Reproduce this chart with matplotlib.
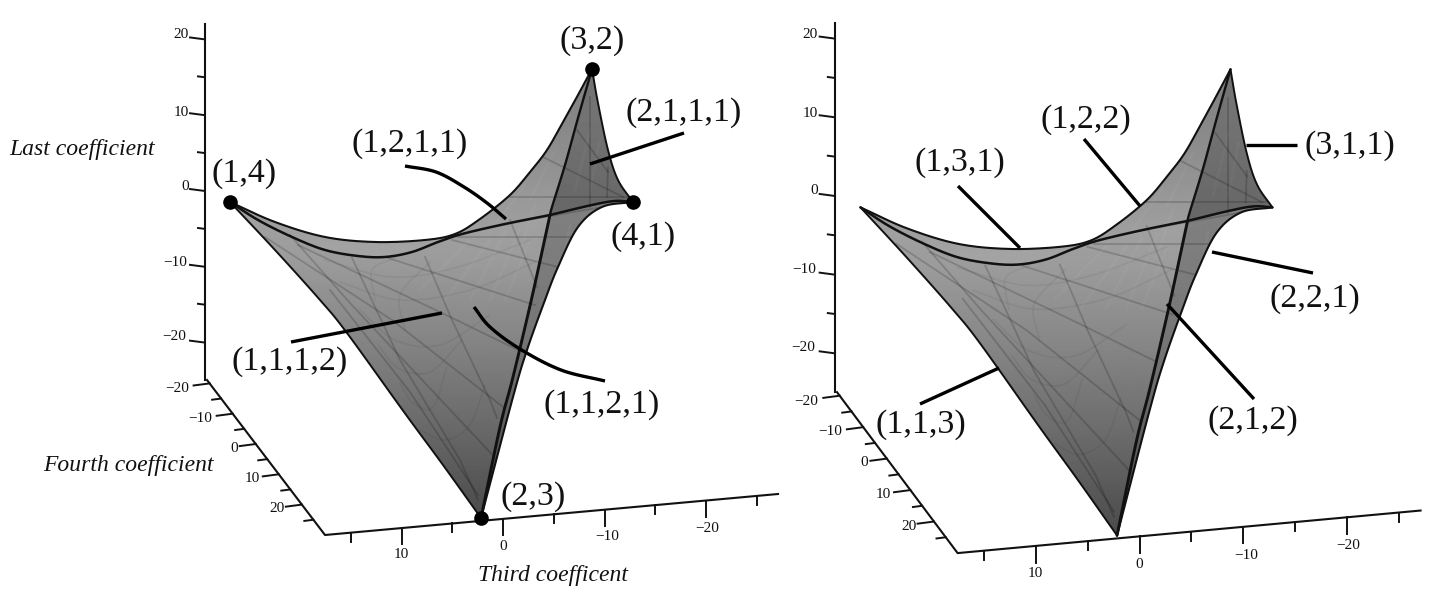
import numpy as np
import matplotlib
matplotlib.use("Agg")
import matplotlib.pyplot as plt
from matplotlib.patches import Polygon

plt.rcParams['font.family'] = ['Liberation Serif', 'DejaVu Serif']

# outline of the surface
top_curve = [(230,202),(275,222),(325,237),(375,242),(425,240),(455,234),(480,219),(510,195),(530,172),(547,150),(563,122),(578,95),(592,69)]
front_curve = [(230,202),(258,220),(292,237),(325,250),(358,256),(385,257),(412,252),(438,242),(462,234),(505,224),(550,215)]
front_curve2 = [(550,215),(592,205),(615,201),(633,202)]
ridge_upper = [(592,69),(578,118),(565,165),(552,207),(550,215)]
ridge_lower = [(550,215),(532,297),(513,377),(500,427),(481,518)]
back_edge = [(592,69),(598,103),(608,150),(618,180),(633,202)]
right_edge = [(633,202),(602,207),(578,227),(558,267),(545,300),(527,350),(513,397),(481,518)]
left_edge = [(230,202),(275,250),(320,300),(347,333),(404,412),(443,465),(481,518)]

# grey level against height for each face
shade_y = [60, 120, 200, 260, 340, 430, 520]
back_shade = [0.50, 0.53, 0.60, 0.65, 0.65, 0.65, 0.65]
main_shade = [0.64, 0.64, 0.64, 0.61, 0.52, 0.41, 0.29]
dark_shade = [0.45, 0.45, 0.41, 0.40, 0.40, 0.40, 0.40]
sliver_shade = [0.50, 0.50, 0.50, 0.49, 0.46, 0.37, 0.28]

# darker lines crossing the surface
web_lines = [
    [(510,220),(537,287)],
    [(425,257),(452,320),(490,400),(497,418)],
    [(352,258),(400,360),(460,460),(478,500)],
    [(388,258),(535,305)],
    [(298,245),(442,313),(518,350)],
    [(265,237),(392,320),(503,407)],
    [(290,235),(350,303),(500,463)],
    [(452,240),(558,267)],
    [(458,237),(578,237)],
    [(510,197),(627,197)],
    [(543,157),(623,197)],
    [(577,130),(608,172)],
    [(590,97),(590,207)],
    [(608,167),(607,197)],
    [(505,224),(602,207)],
    [(330,290),(410,392),(478,495)],
]
# faint arcs on the big face
arcs = [
    [(325,260),(392,277),(458,267),(530,240)],
    [(340,282),(400,300),(470,290),(535,262)],
    [(400,383),(413,403),(433,407),(447,367)],
    [(378,345),(398,368),(430,372),(462,340)],
    [(360,310),(395,340),(440,345),(490,315)],
    [(420,430),(445,440),(470,425),(485,385)],
    [(375,300),(372,270),(395,258)],
    [(405,330),(400,295),(430,262)],
]
# light streaks on the upper part
streaks = [
    [(420,290),(470,240)],[(445,300),(490,240)],[(470,300),(505,232)],[(490,300),(520,228)],
    [(505,300),(530,240)],[(520,250),(535,205)],[(495,225),(525,185)],[(530,200),(555,150)],
    [(575,190),(590,130)],[(590,190),(600,140)],[(560,280),(570,225)],
]

third_ticks = [15, 10, 5, 0, -5, -10, -15, -20, -25]
fourth_ticks = [-20, -15, -10, -5, 0, 5, 10, 15, 20, 25]
last_ticks = [20, 15, 10, 5, 0, -5, -10, -15, -20]

last_labels = [(20,181,35),(10,181,112),(0,185,186),(-10,175,262),(-20,174,337)]
fourth_labels = [(-20,177,389),(-10,200,418),(0,234,448),(10,252,479),(20,277,509)]
third_labels = [(10,401,555),(0,503,546),(-10,607,537),(-20,707,528)]

left_names = [("(3,2)",592,41),("(2,1,1,1)",684,113),("(1,2,1,1)",410,144),("(1,4)",244,174),
              ("(4,1)",643,237),("(1,1,1,2)",290,362),("(1,1,2,1)",602,405),("(2,3)",533,497)]
right_names = [("(1,2,2)",1086,120),("(3,1,1)",1350,146),("(1,3,1)",960,163),("(2,2,1)",1315,299),
               ("(2,1,2)",1253,421),("(1,1,3)",921,425)]
axis_names = [("Last coefficient",82,150),("Fourth coefficient",128,466),("Third coefficent",553,576)]

left_leaders = [
    [(405,166),(436,172),(464,187),(487,203),(506,219)],
    [(684,133),(590,164)],
    [(291,342),(442,313)],
    [(474,307),(490,327),(520,349),(561,370),(605,381)],
]
right_leaders = [
    [(958,186),(1020,248)],
    [(1084,139),(1140,206)],
    [(1246,145),(1297,145)],
    [(1212,252),(1313,273)],
    [(1167,304),(1254,399)],
    [(920,404),(999,368)],
]
corner_dots = [(230,202),(592,69),(633,202),(481,518)]


def smooth(pts, n=14):
    # catmull-rom through the points, just so the curves do not look jagged
    p = np.array(pts, dtype=float)
    if len(p) < 3:
        return p
    p = np.vstack([2*p[0]-p[1], p, 2*p[-1]-p[-2]])
    out = []
    for i in range(1, len(p)-2):
        t = np.linspace(0, 1, n, endpoint=False)[:, None]
        a, b, c, d = p[i-1], p[i], p[i+1], p[i+2]
        out.append(0.5*(2*b + (c-a)*t + (2*a-5*b+4*c-d)*t**2 + (3*b-a-3*c+d)*t**3))
    out.append(p[-2:-1])
    return np.vstack(out)


def draw_face(ax, outline, shade):
    ys = np.arange(40, 541)
    grad = np.interp(ys, shade_y, shade)[:, None]
    im = ax.imshow(grad, extent=(200, 660, 540, 40), aspect='auto', cmap='gray', vmin=0, vmax=1, zorder=1)
    im.set_clip_path(Polygon(outline, closed=True, transform=ax.transData))


def draw_panel(ax):
    top = smooth(top_curve)
    front = smooth(front_curve)
    front2 = smooth(front_curve2)
    up = smooth(ridge_upper)
    low = smooth(ridge_lower)
    back = smooth(back_edge)
    right = smooth(right_edge)
    left = smooth(left_edge)

    draw_face(ax, np.vstack([top, up, front[::-1]]), back_shade)
    draw_face(ax, np.vstack([front, low, left[::-1]]), main_shade)
    draw_face(ax, np.vstack([back, front2[::-1], up[::-1]]), dark_shade)
    draw_face(ax, np.vstack([front2, right, low[::-1]]), sliver_shade)

    clip = Polygon(np.vstack([top, back, right, left[::-1]]), closed=True, transform=ax.transData)
    for s in streaks:
        a = np.array(s)
        l, = ax.plot(a[:,0], a[:,1], color='white', lw=2.0, alpha=0.03, zorder=2)
        l.set_clip_path(clip)
    for s in arcs:
        a = smooth(s)
        l, = ax.plot(a[:,0], a[:,1], color='black', lw=1.2, alpha=0.05, zorder=2)
        l.set_clip_path(clip)
    for s in web_lines:
        a = np.array(s)
        l, = ax.plot(a[:,0], a[:,1], color='black', lw=1.3, alpha=0.17, zorder=3)
        l.set_clip_path(clip)

    for c, w in [(top,1.5),(front,1.8),(front2,1.8),(up,1.7),(low,2.1),(back,1.4),(right,1.5),(left,1.4)]:
        ax.plot(c[:,0], c[:,1], color='#111111', lw=w, zorder=4, solid_capstyle='round')

    # the three axes
    ax.plot([205,205], [24,380], color='#111111', lw=1.5, zorder=5)
    ax.plot([207,325,778], [380,535,494], color='#111111', lw=1.5, zorder=5)
    for z in last_ticks:
        y = 191 - z*7.58
        size = 15 if z % 10 == 0 else 7
        ax.plot([205-size,205], [y-size*0.13,y], color='#111111', lw=1.4, zorder=5)
    for f in fourth_ticks:
        y = 444 + f*3.03
        x = 207 + (y-380)*0.761
        size = 16 if f % 10 == 0 else 9
        ax.plot([x-size,x], [y+size*0.13,y], color='#111111', lw=1.4, zorder=5)
    for t in third_ticks:
        x = 503 - t*10.15
        y = 535 - 0.0905*(x-325)
        size = 16 if t % 10 == 0 else 9
        ax.plot([x,x], [y,y+size], color='#111111', lw=1.4, zorder=5)

    for group in (last_labels, fourth_labels, third_labels):
        for val, x, y in group:
            txt = str(val).replace('-', '\u2212')
            ax.text(x, y, txt, fontsize=11, ha='center', va='center', color='#111111')


fig = plt.figure(figsize=(14.31, 5.97), dpi=100)

ax1 = fig.add_axes([0, 0, 800/1431, 1])
draw_panel(ax1)
ax1.set_xlim(0, 800)
ax1.set_ylim(597, 0)
ax1.axis('off')

ax2 = fig.add_axes([716/1431, 0, 715/1431, 1])
draw_panel(ax2)
ax2.set_xlim(88.6, 788.2)
ax2.set_ylim(577.3, 2.2)
ax2.axis('off')

# names and leader lines are placed in picture coordinates
over = fig.add_axes([0, 0, 1, 1])
over.set_xlim(0, 1431)
over.set_ylim(597, 0)
over.axis('off')
for s in left_leaders + right_leaders:
    a = smooth(s)
    over.plot(a[:,0], a[:,1], color='black', lw=2.4, zorder=6, solid_capstyle='butt')
dots = np.array(corner_dots)
over.plot(dots[:,0], dots[:,1], 'o', color='black', ms=9.5, zorder=7)
for name, x, y in left_names + right_names:
    over.text(x, y, name, fontsize=24.5, ha='center', va='center', color='#111111')
for name, x, y in axis_names:
    over.text(x, y, name, fontsize=17, style='italic', ha='center', va='center', color='#111111')

fig.savefig("out.png", dpi=100)
